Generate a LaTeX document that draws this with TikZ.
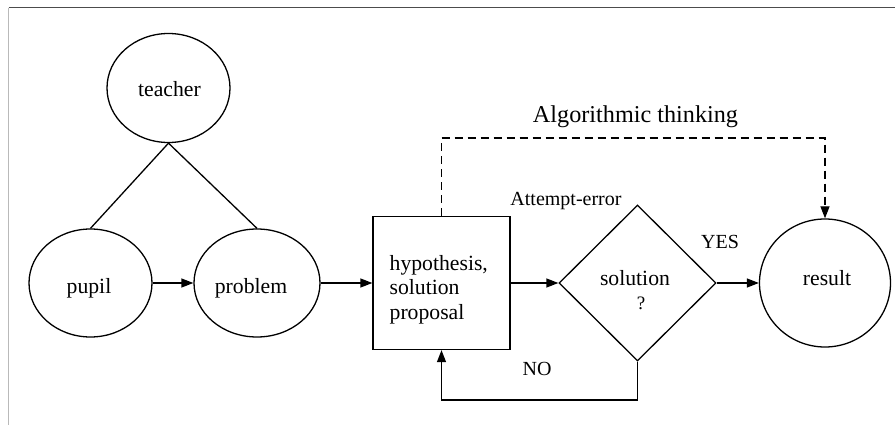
\documentclass[tikz,border=0pt]{standalone}
\usepackage{fontspec}
\setmainfont{Liberation Serif}
\usetikzlibrary{shapes.geometric,arrows.meta}
\begin{document}
\begin{tikzpicture}[x=1pt,y=-1pt,
  line width=1.3pt,
  oval/.style={draw, ellipse, inner sep=0pt},
  txt/.style={anchor=base, inner sep=0pt, font=\fontsize{21.7}{24}\selectfont},
  lbl/.style={anchor=base, inner sep=0pt, font=\fontsize{20}{22}\selectfont},
  arr/.style={-{Triangle[length=12pt,width=9pt]}}]
\useasboundingbox (0,0) rectangle (895,425);
% frame
\draw[line width=1pt, gray!60!black] (8.5,8) -- (895,8);
\draw[line width=1.2pt, gray!55] (8.5,8) -- (8.5,425);
% shapes
\node[oval, minimum width=123pt, minimum height=109pt] (teacher) at (168.5,88) {};
\node[oval, minimum width=123pt, minimum height=108pt] (pupil) at (90.5,283) {};
\node[oval, minimum width=126pt, minimum height=108pt] (problem) at (257,283) {};
\node[draw, minimum width=137pt, minimum height=133pt, inner sep=0pt] (box) at (441.5,283) {};
\node[draw, diamond, minimum width=157pt, minimum height=156pt, inner sep=0pt] (diam) at (637.5,283) {};
\node[oval, minimum width=131pt, minimum height=128pt] (result) at (825,283) {};
% texts
\node[txt] (tteacher) at (169.5,97) {teacher};
\node[txt] (tpupil) at (89,293) {pupil};
\node[txt] (tproblem) at (251,293) {problem};
\node[txt] (tresult) at (827,285) {result};
\node[txt] (tsol) at (635,285) {solution};
\node[anchor=base, inner sep=0pt, font=\fontsize{19}{21}\selectfont] (tq) at (641,309) {?};
\node[txt, anchor=base west] (h1) at (389,270) {hypothesis,};
\node[txt, anchor=base west] (h2) at (389,294.5) {solution};
\node[txt, anchor=base west] (h3) at (389,319) {proposal};
\node[lbl] (tatt) at (566,205) {Attempt-error};
\node[lbl] (tno) at (537,375) {NO};
\node[lbl] (tyes) at (720,248) {YES};
\node[anchor=base, inner sep=0pt, font=\fontsize{24.2}{26}\selectfont] (talg) at (635.5,123) {Algorithmic thinking};
% connectors
\draw (teacher.south) -- (pupil.north);
\draw (teacher.south) -- (problem.north);
\draw[arr] (pupil.east) -- (problem.west);
\draw[arr] (problem.east) -- (box.west);
\draw[arr] (box.east) -- (diam.west);
\draw[arr] (diam.east) -- (result.west);
\coordinate (bot) at (0,400);
\draw[arr] (diam.south) -- (diam.south |- bot) -- (box.south |- bot) -- (box.south);
\coordinate (top) at (0,138);
\draw[arr, dash pattern=on 8pt off 5pt] (box.north) -- (box.north |- top) -- (result.north |- top) -- (result.north);
\end{tikzpicture}
\end{document}
